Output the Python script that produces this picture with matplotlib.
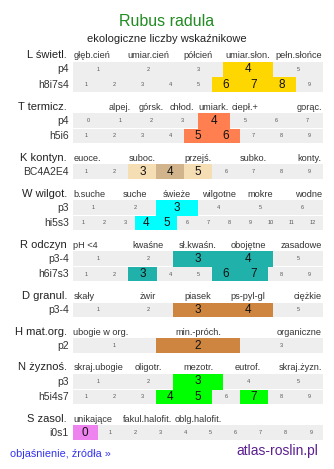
import matplotlib
matplotlib.use("Agg")
import matplotlib.pyplot as plt

plt.rcParams['font.family'] = ['Liberation Sans', 'DejaVu Sans']

# ---------------- data ----------------
TITLE = "Rubus radula"
SUBTITLE = "ekologiczne liczby wskaźnikowe"
FOOT_LEFT = "objaśnienie, źródła »"
FOOT_RIGHT = "atlas-roslin.pl"

section_names = ["L świetl.", "T termicz.", "K kontyn.", "W wilgot.", "R odczyn",
                 "D granul.", "H mat.org.", "N żyznoś.", "S zasol."]

L_header = ["głęb.cień", "umiar.cień", "półcień", "umiar.słon.", "pełn.słońce"]
L_slots = [0, 1, 2, 3, 4]
L_grid = 5
L_rows = ["p4", "h8i7s4"]
L_cells = [[1, 2, 3, 4, 5], [1, 2, 3, 4, 5, 6, 7, 8, 9]]
L_high = [[4], [6, 7, 8]]

T_header = ["alpej.", "górsk.", "chłod.", "umiark.", "ciepł.+", "gorąc."]
T_slots = [1, 2, 3, 4, 5, 7]
T_grid = 8
T_rows = ["p4", "h5i6"]
T_cells = [[0, 1, 2, 3, 4, 5, 6, 7], [1, 2, 3, 4, 5, 6, 7, 8, 9]]
T_high = [[4], [5, 6]]

K_header = ["euoce.", "suboc.", "przejś.", "subko.", "konty."]
K_slots = [0, 2, 4, 6, 8]
K_grid = 9
K_rows = ["BC4A2E4"]
K_cells = [[1, 2, 3, 4, 5, 6, 7, 8, 9]]
K_high = [[3, 4, 5]]
K_core = [4]          # darker shade

W_header = ["b.suche", "suche", "świeże", "wilgotne", "mokre", "wodne"]
W_slots = [0, 1, 2, 3, 4, 5]
W_grid = 6
W_rows = ["p3", "hi5s3"]
W_cells = [[1, 2, 3, 4, 5, 6], [1, 2, 3, 4, 5, 6, 7, 8, 9, 10, 11, 12]]
W_high = [[3], [4, 5]]

R_header = ["pH <4", "kwaśne", "sł.kwaśn.", "obojętne", "zasadowe"]
R_slots = [0, 1, 2, 3, 4]
R_grid = 5
R_rows = ["p3-4", "h6i7s3"]
R_cells = [[1, 2, 3, 4, 5], [1, 2, 3, 4, 5, 6, 7, 8, 9]]
R_high = [[3, 4], [3, 6, 7]]

D_header = ["skały", "żwir", "piasek", "ps-pyl-gl", "ciężkie"]
D_slots = [0, 1, 2, 3, 4]
D_grid = 5
D_rows = ["p3-4"]
D_cells = [[1, 2, 3, 4, 5]]
D_high = [[3, 4]]

H_header = ["ubogie w org.", "min.-próch.", "organiczne"]
H_slots = [0, 1, 2]
H_grid = 3
H_rows = ["p2"]
H_cells = [[1, 2, 3]]
H_high = [[2]]

N_header = ["skraj.ubogie", "oligotr.", "mezotr.", "eutrof.", "skraj.żyzn."]
N_slots = [0, 1, 2, 3, 4]
N_grid = 5
N_rows = ["p3", "h5i4s7"]
N_cells = [[1, 2, 3, 4, 5], [1, 2, 3, 4, 5, 6, 7, 8, 9]]
N_high = [[3], [4, 5, 7]]

S_header = ["unikające", "fakul.halofit.", "oblg.halofit."]
S_slots = [0, 1, 2]
S_grid = 5
S_rows = ["i0s1"]
S_cells = [[0, 1, 2, 3, 4, 5, 6, 7, 8, 9]]
S_high = [[0]]

# ---------------- style ----------------
colors = {"L": "#ffd700", "T": "#ff7f50", "K": "#f5deb3", "W": "#00ffff",
          "R": "#20b2aa", "D": "#cd853f", "H": "#cd853f", "N": "#00ff00",
          "S": "#ee82ee"}
K_core_color = "#d2b48c"
GRAY = "#eeeeee"

W_PX, H_PX = 334, 469
X0, X1 = 72.7, 323.3
PITCH = 15.4
GRAY_H = 14.6
SECTION_GAP = 20.4
FIRST_TOP = 62.0

fig = plt.figure(figsize=(W_PX / 100, H_PX / 100), dpi=100)
ax = fig.add_axes([0, 0, 1, 1])
ax.set_xlim(0, W_PX)
ax.set_ylim(H_PX, 0)
ax.axis('off')

ax.text(167, 26, TITLE, ha='center', va='baseline', fontsize=11.5, color='#228b22')
ax.text(167, 41.7, SUBTITLE, ha='center', va='baseline', fontsize=8, color='#222222')

sections = [
    ("L", L_header, L_slots, L_grid, L_rows, L_cells, L_high),
    ("T", T_header, T_slots, T_grid, T_rows, T_cells, T_high),
    ("K", K_header, K_slots, K_grid, K_rows, K_cells, K_high),
    ("W", W_header, W_slots, W_grid, W_rows, W_cells, W_high),
    ("R", R_header, R_slots, R_grid, R_rows, R_cells, R_high),
    ("D", D_header, D_slots, D_grid, D_rows, D_cells, D_high),
    ("H", H_header, H_slots, H_grid, H_rows, H_cells, H_high),
    ("N", N_header, N_slots, N_grid, N_rows, N_cells, N_high),
    ("S", S_header, S_slots, S_grid, S_rows, S_cells, S_high),
]

top = FIRST_TOP
for name, (key, hdr, slots, grid, rows, cells_list, high_list) in zip(section_names, sections):
    base = top - 3.7
    ax.text(67, base, name, ha='right', va='baseline', fontsize=8, color='#222222')
    gw = (X1 - X0) / grid
    for lab, s in zip(hdr, slots):
        if s == 0:
            x, ha = X0 + 0.5, 'left'
        elif s == grid - 1:
            x, ha = X1 - 1.5, 'right'
        else:
            x, ha = X0 + (s + 0.5) * gw, 'center'
        ax.text(x, base, lab, ha=ha, va='baseline', fontsize=6.6, color='#333333')
    for i, (rl, cells, high) in enumerate(zip(rows, cells_list, high_list)):
        y = top + i * PITCH
        n = len(cells)
        cw = (X1 - X0) / n
        lefts = [X0 + j * cw for j in range(n)]
        ax.barh([y] * n, [cw] * n, left=lefts, height=GRAY_H, align='edge',
                color=GRAY, linewidth=0)
        hh = PITCH if i < len(rows) - 1 else GRAY_H
        for j, c in enumerate(cells):
            cx = X0 + (j + 0.5) * cw
            if c in high:
                col = colors[key]
                if key == "K" and c in K_core:
                    col = K_core_color
                ax.barh(y, cw + 0.3, left=X0 + j * cw, height=hh, align='edge',
                        color=col, linewidth=0)
                ax.text(cx, y + 7.3, str(c), ha='center', va='center',
                        fontsize=8.5, color='#111111')
            else:
                ax.text(cx, y + 7.3, str(c), ha='center', va='center',
                        fontsize=4, color='#555555')
        ax.text(69, y + 10.4, rl, ha='right', va='baseline', fontsize=7.5, color='#333333')
    top = top + len(rows) * PITCH + SECTION_GAP

ax.text(10, 457, FOOT_LEFT, ha='left', va='baseline', fontsize=7.8, color='#3333ee')
ax.text(318, 455, FOOT_RIGHT, ha='right', va='baseline', fontsize=10, color='#5b1f8f')

fig.savefig("out.png", dpi=100)
